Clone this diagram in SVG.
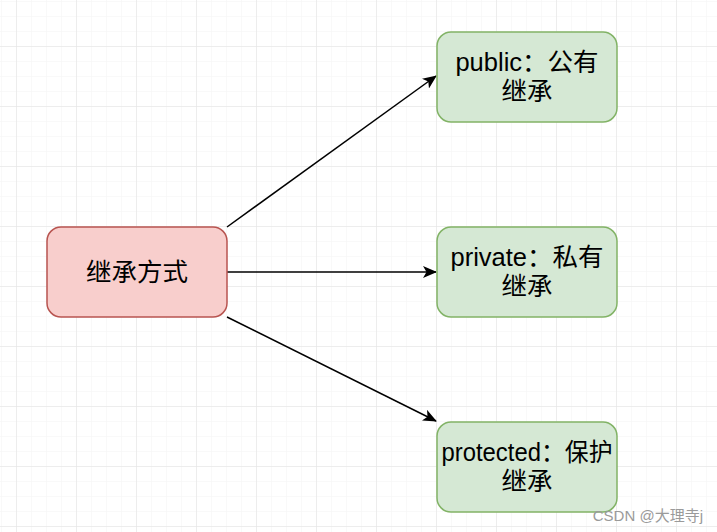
<svg xmlns="http://www.w3.org/2000/svg" width="717" height="532" viewBox="0 0 717 532">
<defs>
<pattern id="minor" x="1" y="1" width="15" height="15" patternUnits="userSpaceOnUse">
<path d="M0 0H15M0 0V15" fill="none" stroke="#f3f3f3" stroke-width="1"/>
</pattern>
<pattern id="major" x="16" y="46" width="60" height="60" patternUnits="userSpaceOnUse">
<path d="M0 0H60M0 0V60" fill="none" stroke="#e2e2e2" stroke-width="1"/>
</pattern>
<marker id="arrow" viewBox="0 0 14 12" refX="13" refY="6" markerWidth="14" markerHeight="12" markerUnits="userSpaceOnUse" orient="auto">
<path d="M0 0L14 6L0 12L3.5 6Z" fill="#000"/>
</marker>
</defs>
<style>
.red{fill:#f8cecc;stroke:#b85450;stroke-width:1.5}
.green{fill:#d5e8d4;stroke:#82b366;stroke-width:1.5}
.t{font-family:"Liberation Sans","Noto Sans CJK SC",sans-serif;font-size:25.5px;fill:#000;text-anchor:middle}
.edge{stroke:#000;stroke-width:1.5;fill:none;marker-end:url(#arrow)}
.wm{font-family:"Liberation Sans","Noto Sans CJK SC",sans-serif;font-size:15px;fill:#9a9a9a;text-anchor:end}
</style>
<rect width="717" height="532" fill="#fff"/>
<rect width="717" height="532" fill="url(#minor)"/>
<rect width="717" height="532" fill="url(#major)"/>
<g id="connectors">
<line class="edge" x1="227" y1="227" x2="436" y2="76"/>
<line class="edge" x1="227" y1="272" x2="436" y2="272"/>
<line class="edge" x1="227" y1="317" x2="436" y2="421"/>
</g>
<g id="node-main">
<rect class="red" x="47" y="227" width="180" height="90" rx="14"/>
<text class="t" x="137" y="281">继承方式</text>
</g>
<g id="node-public">
<rect class="green" x="437" y="32" width="180" height="90" rx="14"/>
<text class="t" x="527" y="71">public：公有</text>
<text class="t" x="527" y="100">继承</text>
</g>
<g id="node-private">
<rect class="green" x="437" y="227" width="180" height="90" rx="14"/>
<text class="t" x="527" y="266">private：私有</text>
<text class="t" x="527" y="295">继承</text>
</g>
<g id="node-protected">
<rect class="green" x="437" y="422" width="180" height="90" rx="14"/>
<text class="t" x="527" y="461" textLength="171" lengthAdjust="spacingAndGlyphs">protected：保护</text>
<text class="t" x="527" y="490">继承</text>
</g>
<text class="wm" x="703" y="521">CSDN @大理寺j</text>
</svg>
